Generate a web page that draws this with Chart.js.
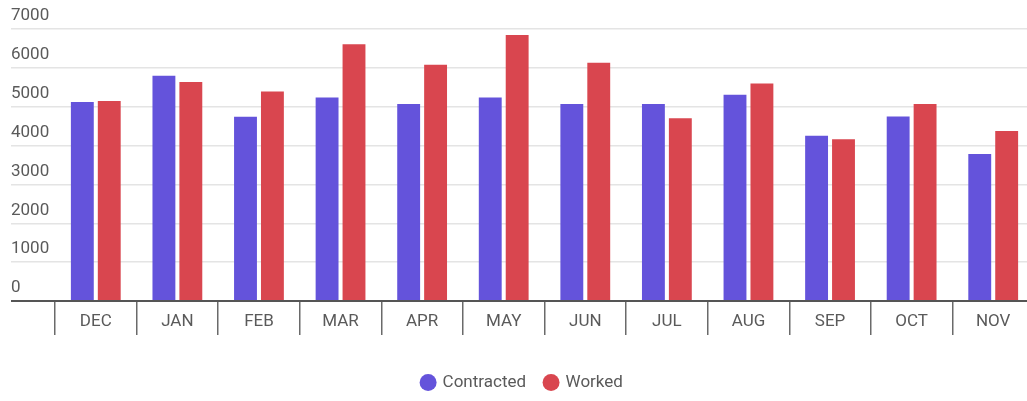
<!DOCTYPE html>
<html>
<head>
    <title>Contracted vs Worked</title>
    <script src="https://cdn.jsdelivr.net/npm/chart.js@4.4.3/dist/chart.umd.js"></script>
</head>

<body>
    <canvas id="hoursChart" width="1034" height="401"></canvas>

    <script>
        const months = ['DEC', 'JAN', 'FEB', 'MAR', 'APR', 'MAY', 'JUN', 'JUL', 'AUG', 'SEP', 'OCT', 'NOV'];
        const contracted = [5120, 5800, 4740, 5240, 5070, 5240, 5070, 5070, 5310, 4255, 4745, 3780];
        const worked = [5150, 5635, 5390, 6605, 6080, 6845, 6130, 4700, 5600, 4160, 5070, 4375];
        const yTicks = ['0', '1000', '2000', '3000', '4000', '5000', '6000', '7000'];

        const textColor = '#5a5a5a';
        const font = { family: 'Roboto', size: 17 };

        new Chart(document.getElementById('hoursChart'), {
            type: 'bar',
            data: {
                labels: months,
                datasets: [{
                    label: 'Contracted',
                    data: contracted,
                    backgroundColor: '#6453db'
                }, {
                    label: 'Worked',
                    data: worked,
                    backgroundColor: '#d9464f'
                }]
            },
            options: {
                responsive: false,
                animation: false,
                layout: { padding: { left: 11, top: 29, right: 0, bottom: 0 } },
                datasets: {
                    bar: { categoryPercentage: 0.66, barPercentage: 0.85 }
                },
                plugins: {
                    tooltip: { enabled: false },
                    legend: {
                        position: 'bottom',
                        labels: {
                            usePointStyle: true,
                            pointStyle: 'circle',
                            boxWidth: 12,
                            boxHeight: 12,
                            color: textColor,
                            font: font,
                            padding: 19
                        }
                    }
                },
                scales: {
                    // month dividers, hanging below the base line
                    xDiv: {
                        type: 'category',
                        position: 'bottom',
                        offset: true,
                        weight: 0,
                        afterFit: axis => { axis.height = 0; },
                        border: { display: false },
                        grid: {
                            offset: true,
                            drawOnChartArea: false,
                            drawTicks: true,
                            tickLength: 34,
                            color: '#6a6a6a',
                            lineWidth: 1.5
                        },
                        ticks: { display: false }
                    },
                    x: {
                        weight: 1,
                        afterFit: axis => { axis.height = 54; },
                        border: { display: false },
                        grid: { display: false, drawTicks: false },
                        ticks: {
                            color: textColor, font: font, padding: 11,
                            maxRotation: 0, minRotation: 0, autoSkip: false
                        }
                    },
                    y: {
                        min: 0,
                        max: 7000,
                        afterFit: axis => { axis.width = 44; },
                        border: { display: false },
                        grid: {
                            tickLength: 44,
                            color: ctx => ctx.tick && ctx.tick.value === 0 ? '#555' : '#e4e4e4',
                            lineWidth: ctx => ctx.tick && ctx.tick.value === 0 ? 2 : 1.5
                        },
                        ticks: {
                            stepSize: 1000,
                            autoSkip: false,
                            callback: (value, i) => yTicks[i],
                            color: textColor,
                            font: font,
                            crossAlign: 'far',
                            labelOffset: -13,
                            padding: 0
                        }
                    }
                }
            }
        });
    </script>
</body>

<style>
    html, body {
        margin: 0;
        background: #ffffff;
        overflow: hidden;
    }

    #hoursChart {
        display: block;
    }
</style>
</html>
